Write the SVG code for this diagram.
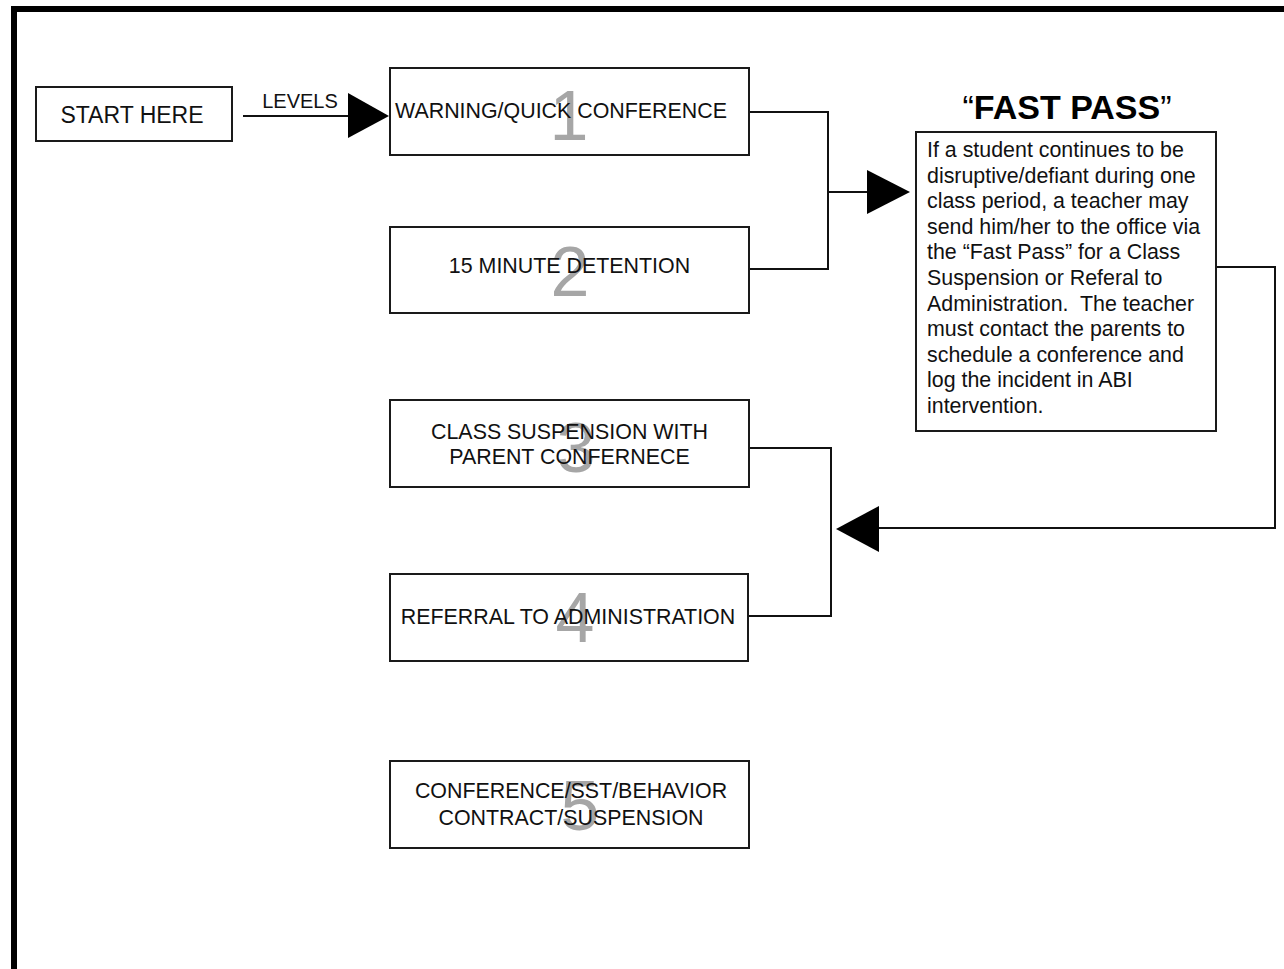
<svg xmlns="http://www.w3.org/2000/svg" width="1284" height="969" viewBox="0 0 1284 969">
<style>
.box{fill:#fff;stroke:#1a1a1a;stroke-width:2}
.t{font-family:"Liberation Sans",Arial,sans-serif;font-size:21.4px;fill:#111;text-anchor:middle}
.num{font-family:"Liberation Sans",Arial,sans-serif;font-size:70px;fill:#a6a6a6;text-anchor:middle}
.fp{font-family:"Liberation Sans",Arial,sans-serif;font-size:21.4px;fill:#111}
.ln{fill:none;stroke:#111;stroke-width:2}
.ah{fill:#000}
</style>
<rect x="0" y="0" width="1284" height="969" fill="#fff"/>
<path d="M14 980 V9 H1290" fill="none" stroke="#000" stroke-width="6"/>

<g id="connectors">
<line class="ln" x1="243" y1="116" x2="350" y2="116"/>
<polygon class="ah" points="348,93 389,116 348,138"/>
<polyline class="ln" points="749,112 828,112 828,269 746,269"/>
<line class="ln" x1="828" y1="192" x2="869" y2="192"/>
<polygon class="ah" points="867,170 910,192 867,214"/>
<polyline class="ln" points="1216,267 1275,267 1275,528 876,528"/>
<polygon class="ah" points="879,506 836,529 879,552"/>
<polyline class="ln" points="749,448 831,448 831,616 748,616"/>
</g>

<g id="start">
<rect class="box" x="36" y="87" width="196" height="54"/>
<text class="t" x="132" y="123" style="font-size:23px">START HERE</text>
</g>
<g id="levels-label">
<text class="t" x="300" y="108" style="font-size:20px">LEVELS</text>
</g>

<g id="level1">
<rect class="box" x="390" y="68" width="359" height="87"/>
<text class="num" x="569" y="140">1</text>
<text class="t" x="561" y="118">WARNING/QUICK CONFERENCE</text>
</g>

<g id="level2">
<rect class="box" x="390" y="227" width="359" height="86"/>
<text class="num" x="570" y="296">2</text>
<text class="t" x="569.5" y="273">15 MINUTE DETENTION</text>
</g>

<g id="level3">
<rect class="box" x="390" y="400" width="359" height="87"/>
<text class="num" x="576" y="472">3</text>
<text class="t" x="569.5" y="439">CLASS SUSPENSION WITH</text>
<text class="t" x="569.5" y="464">PARENT CONFERNECE</text>
</g>

<g id="level4">
<rect class="box" x="390" y="574" width="358" height="87"/>
<text class="num" x="575" y="642">4</text>
<text class="t" x="568" y="624">REFERRAL TO ADMINISTRATION</text>
</g>

<g id="level5">
<rect class="box" x="390" y="761" width="359" height="87"/>
<text class="num" x="580" y="830">5</text>
<text class="t" x="571" y="798">CONFERENCE/SST/BEHAVIOR</text>
<text class="t" x="571" y="825">CONTRACT/SUSPENSION</text>
</g>

<g id="fast-pass">
<text x="1067" y="119" style="font-family:'Liberation Sans',Arial,sans-serif;font-size:34px;font-weight:bold;text-anchor:middle;fill:#000"><tspan font-weight="normal">“</tspan>FAST PASS<tspan font-weight="normal">”</tspan></text>
<rect class="box" x="916" y="132" width="300" height="299"/>
<text class="fp" x="927" y="157">If a student continues to be</text>
<text class="fp" x="927" y="182.6">disruptive/defiant during one</text>
<text class="fp" x="927" y="208.2">class period, a teacher may</text>
<text class="fp" x="927" y="233.8">send him/her to the office via</text>
<text class="fp" x="927" y="259.4">the “Fast Pass” for a Class</text>
<text class="fp" x="927" y="285">Suspension or Referal to</text>
<text class="fp" x="927" y="310.6" xml:space="preserve">Administration.  The teacher</text>
<text class="fp" x="927" y="336.2">must contact the parents to</text>
<text class="fp" x="927" y="361.8">schedule a conference and</text>
<text class="fp" x="927" y="387.4">log the incident in ABI</text>
<text class="fp" x="927" y="413">intervention.</text>
</g>
</svg>
